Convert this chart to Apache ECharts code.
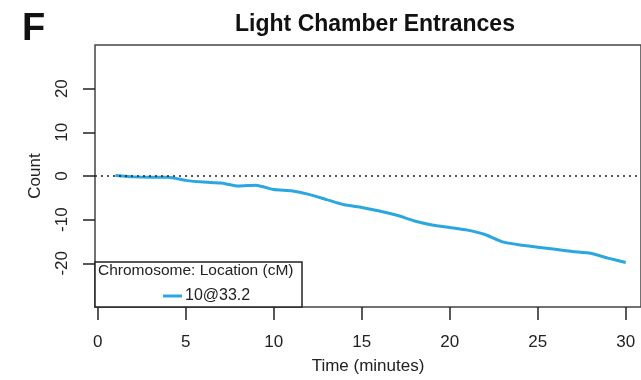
<!DOCTYPE html>
<html>
<head>
<meta charset="utf-8">
<script src="https://cdn.jsdelivr.net/npm/echarts@6/dist/echarts.min.js"></script>
<style>
  html, body { margin: 0; padding: 0; background: #fff; }
  #chart { width: 641px; height: 380px; }
</style>
</head>
<body>
<div id="chart"></div>
<script>
// Minutes after start
const minutes = [1,2,3,4,5,6,7,8,9,10,11,12,13,14,15,16,17,18,19,20,21,22,23,24,25,26,27,28,29,30];
// Cumulative difference in light chamber entrances for marker 10@33.2
const counts = [0.1,-0.2,-0.3,-0.3,-1.0,-1.4,-1.6,-2.3,-2.1,-3.1,-3.4,-4.2,-5.4,-6.6,-7.2,-8.0,-9.0,-10.3,-11.2,-11.8,-12.4,-13.4,-15.1,-15.8,-16.3,-16.8,-17.3,-17.7,-18.8,-19.8];
const xTicks = [0,5,10,15,20,25,30];
const yTicks = [-20,-10,0,10,20];
const seriesName = '10@33.2';
const legendTitle = 'Chromosome: Location (cM)';

const FONT = '"Liberation Sans", Arial, sans-serif';
const chart = echarts.init(document.getElementById('chart'), null, { renderer: 'canvas' });

chart.setOption({
  animation: false,
  backgroundColor: '#ffffff',
  textStyle: { fontFamily: FONT },
  title: [
    { text: 'Light Chamber Entrances', left: 370, top: 8, textAlign: 'center',
      textStyle: { fontFamily: FONT, fontSize: 23, fontWeight: 'bold', color: '#111' } },
    { text: 'F', left: 17, top: 6,
      textStyle: { fontFamily: FONT, fontSize: 38, fontWeight: 'bold', color: '#111' } }
  ],
  grid: {
    left: 95, right: 0, top: 45, bottom: 73,
    show: true, borderColor: '#444', borderWidth: 1.5, backgroundColor: 'transparent'
  },
  xAxis: {
    type: 'value', min: -0.16, max: 30.87,
    name: 'Time (minutes)', nameLocation: 'middle', nameGap: 51,
    nameTextStyle: { fontFamily: FONT, fontSize: 17, color: '#222' },
    axisLine: { show: false, onZero: false },
    splitLine: { show: false },
    axisTick: { show: true, inside: false, length: 13, customValues: xTicks,
      lineStyle: { color: '#222', width: 1.5 } },
    axisLabel: { customValues: xTicks, margin: 27, fontFamily: FONT, fontSize: 17, color: '#222' }
  },
  yAxis: {
    type: 'value', min: -30, max: 30,
    name: 'Count', nameLocation: 'middle', nameGap: 51, nameRotate: 90,
    nameTextStyle: { fontFamily: FONT, fontSize: 17, color: '#222' },
    axisLine: { show: false, onZero: false },
    splitLine: { show: false },
    axisTick: { show: true, inside: false, length: 12, customValues: yTicks,
      lineStyle: { color: '#222', width: 1.5 } },
    axisLabel: { customValues: yTicks, rotate: 90, margin: 24, fontFamily: FONT, fontSize: 17, color: '#222' }
  },
  legend: {
    left: 158, top: 283, orient: 'horizontal',
    itemWidth: 19, itemHeight: 3, itemGap: 4,
    icon: 'rect',
    data: [{ name: seriesName, icon: 'rect' }],
    textStyle: { fontFamily: FONT, fontSize: 16, color: '#222', padding: [0, 0, 0, -2] },
    z: 20
  },
  graphic: [
    {
      type: 'rect', z: 10,
      shape: { x: 95, y: 262, width: 207, height: 45 },
      style: { fill: '#ffffff', stroke: '#222', lineWidth: 1.5 }
    },
    {
      type: 'text', z: 11, left: 98, top: 263,
      style: { text: legendTitle, fontFamily: FONT, fontSize: 15.5, fill: '#222' }
    }
  ],
  series: [{
    name: seriesName,
    type: 'line',
    data: minutes.map((m, i) => [m, counts[i]]),
    showSymbol: false,
    symbol: 'none',
    smooth: 0.15,
    lineStyle: { color: '#2aa6e0', width: 3 },
    itemStyle: { color: '#2aa6e0' },
    markLine: {
      silent: true, symbol: 'none',
      label: { show: false },
      lineStyle: { color: '#222', type: [2, 4], width: 1.5 },
      data: [{ yAxis: 0 }]
    }
  }]
});
</script>
</body>
</html>
